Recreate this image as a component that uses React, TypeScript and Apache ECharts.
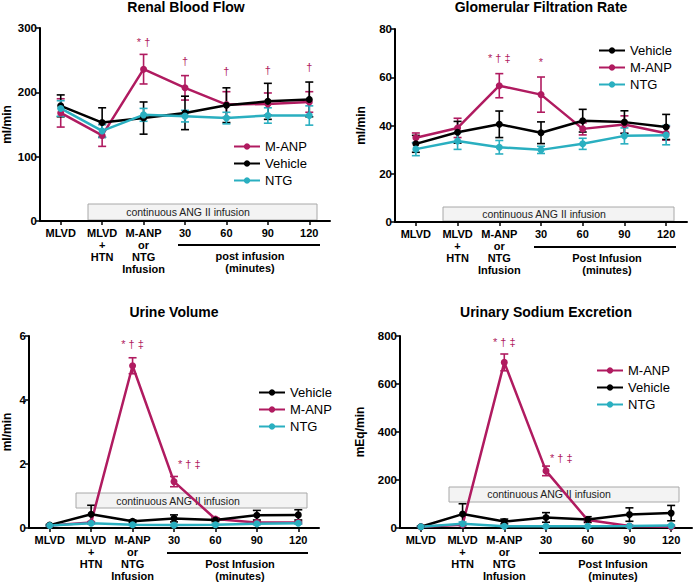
import React, { useEffect, useRef } from "react";
import * as echarts from "echarts";

const FONT = "Liberation Sans, Arial, Helvetica, sans-serif";
const C_MANP = "#b01b60";
const C_VEH = "#000000";
const C_NTG = "#2aafc0";

const categories = ["MLVD", "MLVD\n+\nHTN", "M-ANP\nor\nNTG\nInfusion", "30", "60", "90", "120"];

// Renal Blood Flow (ml/min)
const rbfManp = [168, 133, 236, 207, 181, 182, 185];
const rbfManpErr = [22, 17, 23, 19, 20, 17, 16];
const rbfVeh = [179, 153, 160, 168, 180, 186, 189];
const rbfVehErr = [17, 23, 25, 26, 27, 28, 27];
const rbfNtg = [175, 140, 165, 163, 160, 164, 164];
const rbfNtgErr = [12, 10, 10, 9, 9, 12, 15];

// Glomerular Filtration Rate (ml/min)
const gfrVeh = [32.4, 37.2, 40.5, 37, 42, 41.4, 39.4];
const gfrVehErr = [3.5, 4.5, 5.5, 4.5, 4.7, 4.7, 5.2];
const gfrManp = [34.9, 39, 56.5, 52.8, 38.6, 40.4, 36.8];
const gfrManpErr = [2, 4, 5, 7.3, 2.5, 3.6, 2.8];
const gfrNtg = [30.2, 33.6, 31, 29.9, 32.4, 35.7, 36];
const gfrNtgErr = [2.7, 3.5, 2.8, 1.5, 2.3, 3.3, 4];

// Urine Volume (ml/min)
const uvVeh = [0.09, 0.43, 0.21, 0.3, 0.25, 0.4, 0.41];
const uvVehErr = [0.02, 0.28, 0.04, 0.11, 0.05, 0.15, 0.16];
const uvManp = [0.08, 0.17, 5.07, 1.45, 0.28, 0.17, 0.17];
const uvManpErr = [0.02, 0.03, 0.25, 0.16, 0.04, 0.03, 0.03];
const uvNtg = [0.08, 0.15, 0.1, 0.09, 0.1, 0.13, 0.15];
const uvNtgErr = [0.02, 0.03, 0.02, 0.02, 0.02, 0.03, 0.03];

// Urinary Sodium Excretion (mEq/min)
const unaManp = [5, 14, 690, 238, 33, 8, 5];
const unaManpErr = [2, 4, 35, 20, 5, 3, 2];
const unaVeh = [5, 58, 27, 44, 35, 56, 62];
const unaVehErr = [3, 43, 10, 20, 12, 28, 32];
const unaNtg = [5, 18, 7, 7, 7, 8, 10];
const unaNtgErr = [2, 7, 2, 2, 2, 2, 3];

// significance annotations: [category index, y value, text]
const rbfMarks: [number, number, string][] = [
  [2, 278, "* †"], [3, 248, "†"], [4, 233, "†"], [5, 235, "†"], [6, 239, "†"],
];
const gfrMarks: [number, number, string][] = [[2, 68, "* † ‡"], [3, 66.5, "*"]];
const uvMarks: [number, number, string][] = [[2, 5.75, "* † ‡"]];
const uvSideMarks: [number, number, string][] = [[3, 2.0, "* † ‡"]];
const unaMarks: [number, number, string][] = [[2, 775, "* † ‡"]];
const unaSideMarks: [number, number, string][] = [[3, 290, "* † ‡"]];

const titles = ["Renal Blood Flow", "Glomerular Filtration Rate", "Urine Volume", "Urinary Sodium Excretion"];
const yNames = ["ml/min", "ml/min", "ml/min", "mEq/min"];
const yMax = [300, 80, 6, 800];
const yStep = [100, 20, 2, 200];

type Group = { name: string; color: string; vals: number[]; errs: number[] };

const panels: { groups: Group[]; legend: string[]; marks: [number, number, string][]; side: [number, number, string][] }[] = [
  {
    groups: [
      { name: "M-ANP", color: C_MANP, vals: rbfManp, errs: rbfManpErr },
      { name: "Vehicle", color: C_VEH, vals: rbfVeh, errs: rbfVehErr },
      { name: "NTG", color: C_NTG, vals: rbfNtg, errs: rbfNtgErr },
    ],
    legend: ["M-ANP", "Vehicle", "NTG"],
    marks: rbfMarks,
    side: [],
  },
  {
    groups: [
      { name: "M-ANP", color: C_MANP, vals: gfrManp, errs: gfrManpErr },
      { name: "Vehicle", color: C_VEH, vals: gfrVeh, errs: gfrVehErr },
      { name: "NTG", color: C_NTG, vals: gfrNtg, errs: gfrNtgErr },
    ],
    legend: ["Vehicle", "M-ANP", "NTG"],
    marks: gfrMarks,
    side: [],
  },
  {
    groups: [
      { name: "M-ANP", color: C_MANP, vals: uvManp, errs: uvManpErr },
      { name: "Vehicle", color: C_VEH, vals: uvVeh, errs: uvVehErr },
      { name: "NTG", color: C_NTG, vals: uvNtg, errs: uvNtgErr },
    ],
    legend: ["Vehicle", "M-ANP", "NTG"],
    marks: uvMarks,
    side: uvSideMarks,
  },
  {
    groups: [
      { name: "M-ANP", color: C_MANP, vals: unaManp, errs: unaManpErr },
      { name: "Vehicle", color: C_VEH, vals: unaVeh, errs: unaVehErr },
      { name: "NTG", color: C_NTG, vals: unaNtg, errs: unaNtgErr },
    ],
    legend: ["M-ANP", "Vehicle", "NTG"],
    marks: unaMarks,
    side: unaSideMarks,
  },
];

const grids = [
  { left: 40, top: 28, width: 290, height: 193 },
  { left: 395, top: 29, width: 292, height: 193 },
  { left: 28, top: 336, width: 291, height: 193 },
  { left: 400, top: 336, width: 292, height: 193 },
];
const titlePos = [
  { x: 186, y: 0 },
  { x: 541, y: 0 },
  { x: 174, y: 305 },
  { x: 546, y: 305 },
];
const nameGaps = [27, 28, 16, 34];
const legendPos = [
  { left: 233, top: 140 },
  { left: 598, top: 44 },
  { left: 258, top: 386 },
  { left: 596, top: 364 },
];
const boxes = [
  { x: 88, y: 204, w: 229, h: 16, tx: 188, ty: 212 },
  { x: 443, y: 207, w: 231, h: 14, tx: 544, ty: 214 },
  { x: 76, y: 493, w: 231, h: 15, tx: 178, ty: 501 },
  { x: 449, y: 487, w: 230, h: 15, tx: 549, ty: 494 },
];
const brackets = [
  { x1: 178, x2: 320, y: 245, tx: 250, t1: "post infusion" },
  { x1: 534, x2: 676, y: 247, tx: 607, t1: "Post Infusion" },
  { x1: 167, x2: 308, y: 553, tx: 240, t1: "Post Infusion" },
  { x1: 539, x2: 681, y: 553, tx: 613, t1: "Post Infusion" },
];

function buildOption() {
  const series: any[] = [];
  const graphic: any[] = [];

  boxes.forEach((b) => {
    graphic.push({
      type: "rect",
      shape: { x: b.x, y: b.y, width: b.w, height: b.h },
      style: { fill: "#f3f3f3", stroke: "#a8a8a8", lineWidth: 1 },
      z: -10,
      silent: true,
    });
    graphic.push({
      type: "text",
      x: b.tx,
      y: b.ty,
      style: {
        text: "continuous ANG II infusion",
        fill: "#222",
        font: `10.5px ${FONT}`,
        align: "center",
        verticalAlign: "middle",
      },
      z: -9,
      silent: true,
    });
  });

  brackets.forEach((b) => {
    graphic.push({
      type: "line",
      shape: { x1: b.x1, y1: b.y, x2: b.x2, y2: b.y },
      style: { stroke: "#000", lineWidth: 2 },
    });
    graphic.push({
      type: "text",
      x: b.tx,
      y: b.y + 5,
      style: {
        text: b.t1 + "\n(minutes)",
        fill: "#000",
        font: `bold 11px ${FONT}`,
        lineHeight: 12,
        align: "center",
        verticalAlign: "top",
      },
    });
  });

  panels.forEach((p, pi) => {
    p.groups.forEach((g) => {
      series.push({
        type: "custom",
        xAxisIndex: pi,
        yAxisIndex: pi,
        silent: true,
        data: g.vals.map((v, i) => [i, v, g.errs[i]]),
        encode: { x: 0, y: 1 },
        z: 2,
        renderItem: (params: any, api: any) => {
          const i = api.value(0);
          const m = api.value(1);
          const e = api.value(2);
          const hi = api.coord([i, m + e]);
          const lo = api.coord([i, m - e]);
          const st = { stroke: g.color, lineWidth: 1.6 };
          const cw = 4;
          return {
            type: "group",
            children: [
              { type: "line", shape: { x1: hi[0], y1: hi[1], x2: lo[0], y2: lo[1] }, style: st },
              { type: "line", shape: { x1: hi[0] - cw, y1: hi[1], x2: hi[0] + cw, y2: hi[1] }, style: st },
              { type: "line", shape: { x1: lo[0] - cw, y1: lo[1], x2: lo[0] + cw, y2: lo[1] }, style: st },
            ],
          };
        },
      });
    });
    p.groups.forEach((g) => {
      series.push({
        type: "line",
        name: g.name,
        xAxisIndex: pi,
        yAxisIndex: pi,
        data: g.vals,
        color: g.color,
        symbol: "circle",
        symbolSize: 7,
        lineStyle: { width: 2.5, color: g.color },
        itemStyle: { color: g.color },
        z: 3,
      });
    });
    const addMarks = (marks: [number, number, string][], side: boolean) => {
      if (!marks.length) return;
      series.push({
        type: "custom",
        xAxisIndex: pi,
        yAxisIndex: pi,
        silent: true,
        data: marks.map((m) => [m[0], m[1]]),
        encode: { x: 0, y: 1 },
        z: 4,
        renderItem: (params: any, api: any) => {
          const pt = api.coord([api.value(0), api.value(1)]);
          return {
            type: "text",
            x: pt[0] + (side ? 4 : 0),
            y: pt[1],
            style: {
              text: marks[params.dataIndex][2],
              fill: C_MANP,
              font: `11px ${FONT}`,
              align: side ? "left" : "center",
              verticalAlign: "middle",
            },
          };
        },
      });
    };
    addMarks(p.marks, false);
    addMarks(p.side, true);
  });

  return {
    animation: false,
    backgroundColor: "#ffffff",
    title: titles.map((t, i) => ({
      text: t,
      left: titlePos[i].x,
      top: titlePos[i].y,
      textAlign: "center",
      padding: 0,
      textStyle: { fontFamily: FONT, fontWeight: "bold", fontSize: 14, color: "#000" },
    })),
    legend: panels.map((p, i) => ({
      orient: "vertical",
      left: legendPos[i].left,
      top: legendPos[i].top,
      data: p.legend,
      itemWidth: 26,
      itemHeight: 8,
      itemGap: 4,
      padding: 0,
      selectedMode: false,
      textStyle: { fontFamily: FONT, fontSize: 13, color: "#000" },
    })),
    grid: grids.map((g) => ({ ...g, containLabel: false })),
    xAxis: grids.map((g, i) => ({
      type: "category",
      gridIndex: i,
      data: categories,
      boundaryGap: true,
      axisLine: { show: true, lineStyle: { color: "#000", width: 2 } },
      axisTick: { show: true, alignWithLabel: true, length: 4, lineStyle: { color: "#000", width: 1.5 } },
      axisLabel: {
        interval: 0,
        fontFamily: FONT,
        fontWeight: "bold",
        fontSize: 11,
        lineHeight: 12,
        color: "#000",
        margin: 6,
      },
      splitLine: { show: false },
    })),
    yAxis: grids.map((g, i) => ({
      type: "value",
      gridIndex: i,
      min: 0,
      max: yMax[i],
      interval: yStep[i],
      name: yNames[i],
      nameLocation: "middle",
      nameGap: nameGaps[i],
      nameTextStyle: { fontFamily: FONT, fontWeight: "bold", fontSize: 12, color: "#000" },
      axisLine: { show: true, lineStyle: { color: "#000", width: 2 } },
      axisTick: { show: true, length: 4, lineStyle: { color: "#000", width: 1.5 } },
      axisLabel: { fontFamily: FONT, fontWeight: "bold", fontSize: 11.5, color: "#000", margin: 3 },
      splitLine: { show: false },
    })),
    graphic,
    series,
  };
}

export default function App() {
  const ref = useRef<HTMLDivElement>(null);
  useEffect(() => {
    document.body.style.margin = "0";
    if (!ref.current) return;
    const chart = echarts.init(ref.current, undefined, { renderer: "svg" });
    chart.setOption(buildOption() as any);
    return () => chart.dispose();
  }, []);
  return (
    <div
      ref={ref}
      style={{ position: "absolute", left: 0, top: 0, width: 693, height: 582, background: "#fff" }}
    />
  );
}
